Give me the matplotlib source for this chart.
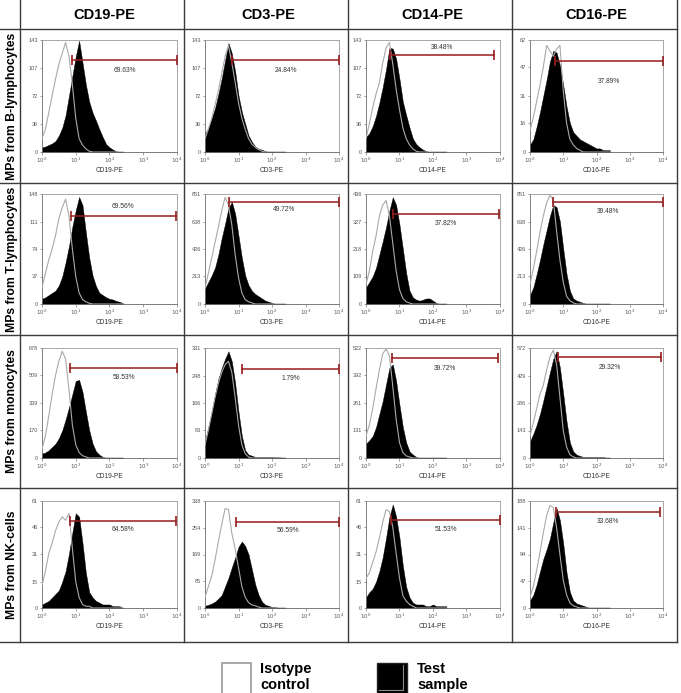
"""
Flow-cytometry overlay grid: MPs from four cell types stained for
CD19 / CD3 / CD14 / CD16 (PE).  Black = test sample, grey = isotype.
"""
import matplotlib.pyplot as plt
import numpy as np
from matplotlib.patches import Rectangle
from matplotlib.ticker import LogLocator, NullFormatter

plt.rcParams.update({
    "font.family": ["Liberation Sans", "DejaVu Sans"],
    "axes.linewidth": 0.6,
})

# ---- Data ---------------------------------------------------------------
COLUMNS = ["CD19-PE", "CD3-PE", "CD14-PE", "CD16-PE"]
ROWS = ["MPs from B-lymphocytes", "MPs from T-lymphocytes",
        "MPs from monocytes", "MPs from NK-cells"]

# channel positions (log10 of fluorescence), counts read every 0.1 decade
CHANNEL_LOG = [0.0, 0.1, 0.2, 0.3, 0.4, 0.5, 0.6, 0.7, 0.8, 0.9, 1.0, 1.1,
               1.2, 1.3, 1.4, 1.5, 1.6, 1.7, 1.8, 1.9, 2.0, 2.1, 2.2, 2.3, 2.4]

Y_MAX = [[143, 143, 143, 62],
         [148, 851, 436, 851],
         [678, 331, 522, 572],
         [61, 338, 61, 188]]

GATE_PCT = [["69.63%", "24.84%", "38.48%", "37.89%"],
            ["69.56%", "49.72%", "37.82%", "39.48%"],
            ["58.53%", "1.79%", "39.72%", "29.32%"],
            ["64.58%", "56.59%", "51.53%", "33.68%"]]
# gate limits, log10 channel
GATE_LO = [[0.90, 0.82, 0.73, 0.76],
           [0.86, 0.71, 0.81, 0.69],
           [0.84, 1.11, 0.78, 0.84],
           [0.82, 0.93, 0.75, 0.78]]
GATE_HI = [[4.00, 3.99, 3.82, 4.00],
           [3.96, 4.00, 3.98, 4.00],
           [4.00, 4.00, 3.93, 3.94],
           [3.98, 4.00, 4.00, 3.92]]

# test sample counts (rows: B, T, mono, NK; one list per marker column)
TEST_B = [
    [6, 7, 9, 11, 14, 21, 31, 47, 72, 97, 122, 142, 114, 86, 64, 50, 40, 29, 19, 10, 6, 3, 1],
    [23, 31, 43, 56, 74, 94, 117, 139, 126, 103, 72, 51, 36, 21, 13, 7, 4, 3, 1],
    [19, 24, 33, 46, 63, 83, 106, 133, 132, 119, 93, 64, 47, 31, 17, 10, 6, 3, 1],
    [4, 7, 14, 22, 31, 40, 50, 56, 55, 48, 37, 25, 16, 11, 9, 7, 6, 5, 4, 3, 2, 2, 1, 1, 1],
]
TEST_T = [
    [7, 9, 12, 15, 18, 25, 37, 56, 78, 104, 126, 144, 133, 96, 62, 38, 24, 15, 12, 9, 7, 6, 4, 3, 1],
    [119, 170, 221, 281, 383, 511, 621, 740, 791, 698, 528, 357, 221, 145, 102, 77, 60, 43, 26, 17, 9],
    [65, 87, 109, 144, 196, 249, 305, 371, 423, 392, 314, 218, 122, 52, 26, 17, 13, 17, 22, 22, 13, 4],
    [68, 128, 230, 340, 460, 570, 681, 766, 749, 638, 426, 230, 102, 43, 26, 17, 9],
]
TEST_M = [
    [27, 34, 47, 68, 88, 122, 170, 237, 312, 393, 475, 481, 407, 285, 170, 88, 41, 20, 7],
    [50, 93, 139, 192, 238, 271, 298, 321, 291, 225, 139, 66, 23, 10, 7, 3, 3, 3, 3, 3, 3, 2, 2, 1, 1],
    [68, 84, 104, 146, 209, 271, 350, 428, 444, 365, 251, 146, 73, 31, 16, 5],
    [86, 126, 172, 229, 297, 372, 446, 515, 555, 469, 332, 189, 80, 34, 17, 11, 6, 6, 6, 6, 6, 6, 6],
]
TEST_NK = [
    [2, 3, 4, 6, 8, 10, 15, 21, 31, 43, 54, 52, 37, 20, 9, 6, 4, 3, 2, 2, 2, 1, 1, 1],
    [7, 10, 14, 20, 30, 41, 68, 95, 128, 159, 193, 210, 196, 169, 122, 74, 41, 20, 10, 7, 3, 3],
    [6, 9, 11, 15, 21, 29, 40, 52, 59, 52, 40, 24, 12, 6, 3, 2, 2, 2, 1, 1, 2, 1, 1, 1, 1],
    [13, 23, 41, 64, 86, 103, 122, 150, 175, 154, 113, 62, 28, 13, 8, 6, 4, 2],
]

# isotype control counts
ISO_B = [
    [17, 29, 50, 72, 93, 112, 126, 140, 122, 86, 43, 17, 9, 4, 1],
    [17, 29, 43, 60, 79, 100, 122, 136, 114, 89, 63, 43, 29, 17, 10, 6, 3, 1],
    [17, 36, 57, 74, 89, 114, 133, 140, 112, 80, 54, 31, 17, 9, 4, 1],
    [12, 19, 28, 37, 47, 59, 56, 53, 57, 59, 34, 16, 7, 4, 2, 1],
]
ISO_T = [
    [22, 41, 59, 74, 92, 115, 130, 141, 118, 74, 37, 15, 6, 3, 1],
    [119, 238, 357, 477, 596, 723, 825, 766, 613, 383, 204, 85, 34, 17, 9],
    [78, 131, 209, 270, 349, 392, 410, 349, 240, 131, 57, 22, 9, 4],
    [153, 272, 408, 553, 681, 783, 842, 808, 562, 340, 170, 60, 26, 9],
]
ISO_M = [
    [54, 136, 258, 393, 509, 597, 658, 610, 420, 203, 81, 34, 14, 7],
    [40, 83, 132, 182, 225, 258, 281, 291, 258, 182, 99, 40, 13, 3],
    [104, 157, 235, 329, 418, 496, 517, 485, 339, 183, 73, 26, 10, 5],
    [114, 183, 257, 332, 378, 458, 526, 561, 486, 315, 143, 57, 17, 6],
]
ISO_NK = [
    [13, 21, 31, 37, 44, 49, 52, 50, 54, 34, 15, 6, 2, 1, 1],
    [34, 68, 101, 152, 210, 264, 314, 311, 237, 186, 128, 68, 34, 17, 10, 7, 3],
    [17, 20, 26, 32, 40, 49, 56, 55, 46, 31, 17, 7, 4, 2, 1],
    [19, 38, 66, 98, 132, 162, 180, 177, 141, 94, 49, 23, 9, 4, 2],
]

TEST = [TEST_B, TEST_T, TEST_M, TEST_NK]
ISO = [ISO_B, ISO_T, ISO_M, ISO_NK]

# ---- Layout (pixels) ----------------------------------------------------
W, H = 681, 693
COL_LINES = [20, 184, 348, 512, 677]
ROW_LINES = [29, 183, 335, 488, 642]
AX_LEFT = [42, 205, 366, 530]
AX_RIGHT = [177, 339, 500, 663]
AX_TOP = [40, 194, 348, 501]
AX_BOTTOM = [152, 304, 458, 608]
# gate bar height and label height, fraction of y range
GATE_Y = [[0.82, 0.82, 0.866, 0.81],
          [0.80, 0.93, 0.815, 0.93],
          [0.82, 0.81, 0.91, 0.92],
          [0.81, 0.80, 0.82, 0.90]]
LABEL_Y = [[0.725, 0.73, 0.93, 0.63],
           [0.89, 0.86, 0.73, 0.84],
           [0.73, 0.72, 0.81, 0.825],
           [0.73, 0.72, 0.73, 0.805]]

GATE_RED = "#971d1d"
GRID = "#3a3a3a"
ISO_GREY = "#a9a9a9"

fig = plt.figure(figsize=(W / 100, H / 100), dpi=100)
frame = fig.add_axes([0, 0, 1, 1])
frame.set_xlim(0, W)
frame.set_ylim(H, 0)
frame.axis("off")

for x in COL_LINES:
    frame.plot([x, x], [0, ROW_LINES[-1]], color=GRID, lw=1.0)
for y in ROW_LINES:
    frame.plot([0, COL_LINES[-1]], [y, y], color=GRID, lw=1.0)

for c, name in enumerate(COLUMNS):
    frame.text((COL_LINES[c] + COL_LINES[c + 1]) / 2 + 2, 15, name,
               ha="center", va="center", fontsize=10.5, fontweight="bold")
for r, name in enumerate(ROWS):
    frame.text(12, (ROW_LINES[r] + ROW_LINES[r + 1]) / 2, name, rotation=90,
               ha="center", va="center", fontsize=8.8, fontweight="bold")

x_chan = 10 ** np.array(CHANNEL_LOG)
n = len(CHANNEL_LOG)

for r in range(4):
    for c in range(4):
        l, t, rr, b = AX_LEFT[c], AX_TOP[r], AX_RIGHT[c], AX_BOTTOM[r]
        ax = fig.add_axes([l / W, 1 - b / H, (rr - l) / W, (b - t) / H])
        ymax = Y_MAX[r][c]
        test = np.pad(TEST[r][c], (0, n - len(TEST[r][c])))
        iso = np.pad(ISO[r][c], (0, n - len(ISO[r][c])))

        ax.fill_between(x_chan, test, 0, color="black", lw=0.3, zorder=2)
        ax.plot(x_chan, iso, color=ISO_GREY, lw=0.8, zorder=3)

        lo, hi = 10 ** GATE_LO[r][c], 10 ** GATE_HI[r][c]
        gy = GATE_Y[r][c] * ymax
        ax.plot([lo, hi], [gy, gy], color=GATE_RED, lw=1.1, zorder=4)
        ax.plot([lo, hi], [gy, gy], ls="none", marker="|", ms=7.5, mew=1.2,
                color=GATE_RED, zorder=4)
        ax.text(10 ** ((GATE_LO[r][c] + GATE_HI[r][c]) / 2), LABEL_Y[r][c] * ymax,
                GATE_PCT[r][c], ha="center", va="center", fontsize=4.8,
                color="#333333", zorder=5)

        ax.set_xscale("log")
        ax.set_xlim(1, 1e4)
        ax.set_ylim(0, ymax)
        ax.set_xticks([1, 10, 100, 1000, 10000])
        ax.set_xticklabels([r"$10^{0}$", r"$10^{1}$", r"$10^{2}$",
                            r"$10^{3}$", r"$10^{4}$"])
        ax.xaxis.set_minor_locator(LogLocator(base=10, subs=range(2, 10)))
        ax.xaxis.set_minor_formatter(NullFormatter())
        ax.set_yticks([int(ymax * k / 4 + 0.5) for k in range(5)])
        ax.tick_params(which="major", length=1.8, width=0.4, labelsize=4,
                       pad=1, colors="#555555")
        ax.tick_params(which="minor", length=1.0, width=0.3, colors="#777777")
        ax.set_xlabel(COLUMNS[c], fontsize=4.8, labelpad=1, color="#333333")
        for side, sp in ax.spines.items():
            sp.set_color("#6a6a6a" if side in ("left", "bottom") else "#9a9a9a")
            sp.set_linewidth(0.6)

# ---- Legend -------------------------------------------------------------
frame.add_patch(Rectangle((222, 663), 29, 36, facecolor="white",
                          edgecolor="#9a9a9a", lw=1.2))
frame.text(260, 662, "Isotype\ncontrol", ha="left", va="top", fontsize=10.5,
           fontweight="bold", linespacing=1.2)
frame.add_patch(Rectangle((377, 663), 30, 36, facecolor="black",
                          edgecolor="#222222", lw=1.0))
frame.plot([403, 403, 379], [665, 690, 690], color="#8a8a8a", lw=0.8)
frame.text(417, 662, "Test\nsample", ha="left", va="top", fontsize=10.5,
           fontweight="bold", linespacing=1.2)

fig.savefig("out.png", dpi=100)
